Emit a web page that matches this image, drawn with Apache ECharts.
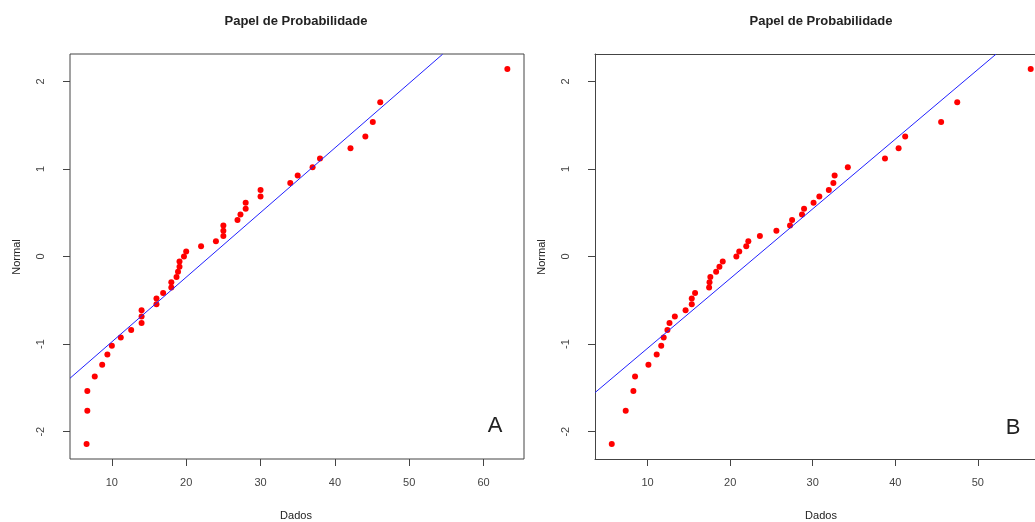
<!DOCTYPE html>
<html>
<head>
<meta charset="utf-8">
<script src="https://cdn.jsdelivr.net/npm/echarts@6/dist/echarts.min.js"></script>
<style>
  html, body { margin: 0; background: #fff; }
  #main { width: 1035px; height: 522px; }
</style>
</head>
<body>
<div id="main"></div>
<script>
// Papel de probabilidade: dados ordenados contra os quantis da normal
var dadosA = [6.6, 6.7, 6.7, 7.7, 8.7, 9.4, 10.0, 11.2, 12.6, 14.0, 14.0, 14.0, 16.0, 16.0, 16.9,
  18.0, 18.0, 18.7, 18.9, 19.1, 19.1, 19.7, 20.0, 22.0, 24.0, 25.0, 25.0, 25.0, 26.9, 27.3,
  28.0, 28.0, 30.0, 30.0, 34.0, 35.0, 37.0, 38.0, 42.1, 44.1, 45.1, 46.1, 63.2];
var dadosB = [5.66, 7.35, 8.28, 8.48, 10.1, 11.1, 11.65, 11.95, 12.4, 12.65, 13.3, 14.6, 15.35, 15.35, 15.75,
  17.45, 17.5, 17.6, 18.3, 18.7, 19.1, 20.75, 21.1, 21.95, 22.2, 23.6, 25.6, 27.25, 27.5, 28.7,
  28.95, 30.1, 30.8, 31.95, 32.5, 32.65, 34.25, 38.75, 40.4, 41.2, 45.55, 47.5, 56.4];
var normal = [-2.141, -1.760, -1.537, -1.371, -1.235, -1.120, -1.018, -0.925, -0.840, -0.760, -0.685,
  -0.614, -0.546, -0.480, -0.416, -0.354, -0.293, -0.233, -0.174, -0.116, -0.058, 0, 0.058, 0.116,
  0.174, 0.233, 0.293, 0.354, 0.416, 0.480, 0.546, 0.614, 0.685, 0.760, 0.840, 0.925, 1.018,
  1.120, 1.235, 1.371, 1.537, 1.760, 2.141];
// reta de referencia (dois pontos de cada reta)
var retaA = [[4.37, -1.39], [54.5, 2.31]];
var retaB = [[3.63, -1.554], [52.2, 2.31]];
var ticksX = [10, 20, 30, 40, 50, 60];
var ticksY = [-2, -1, 0, 1, 2];
var rangeXA = [4.37, 65.44];
// o painel B sai da imagem pela direita: corta o eixo na borda
var rangeXB = [3.63, 56.92];
var rangeY = [-2.312, 2.312];

var FONT = 'Liberation Sans, Arial, sans-serif';
var COR_EIXO = '#444';
var myChart = echarts.init(document.getElementById('main'));

function pares(xs, ys) {
  return xs.map(function (x, i) { return [x, ys[i]]; });
}
function eixoX(idx, r, linha) {
  return {
    type: 'value', gridIndex: idx, min: r[0], max: r[1], position: 'bottom',
    splitLine: { show: false },
    axisLine: { show: linha, onZero: false, lineStyle: { color: COR_EIXO, width: 1 } },
    axisTick: { show: true, length: 7, customValues: ticksX, lineStyle: { color: COR_EIXO } },
    axisLabel: { customValues: ticksX, margin: 18, color: COR_EIXO, fontSize: 11, fontFamily: FONT }
  };
}
// so a linha de cima da moldura
function eixoTopo(idx, r) {
  return {
    type: 'value', gridIndex: idx, min: r[0], max: r[1], position: 'top',
    splitLine: { show: false },
    axisLine: { show: true, onZero: false, lineStyle: { color: COR_EIXO, width: 1 } },
    axisTick: { show: false }, axisLabel: { show: false }
  };
}
function eixoY(idx, linha) {
  return {
    type: 'value', gridIndex: idx, min: rangeY[0], max: rangeY[1], position: 'left',
    splitLine: { show: false },
    axisLine: { show: linha, onZero: false, lineStyle: { color: COR_EIXO, width: 1 } },
    axisTick: { show: true, length: 7, customValues: ticksY, lineStyle: { color: COR_EIXO } },
    axisLabel: { customValues: ticksY, rotate: 90, margin: 24, color: COR_EIXO, fontSize: 11, fontFamily: FONT }
  };
}
function texto(t, x, y, size, weight, rot) {
  return {
    type: 'text', x: x, y: y, rotation: rot || 0,
    style: { text: t, fontSize: size, fontWeight: weight, fontFamily: FONT, fill: '#222',
      align: 'center', verticalAlign: 'middle' }
  };
}

var option = {
  backgroundColor: '#fff',
  animation: false,
  grid: [
    { left: 70, top: 54, width: 454, height: 405, show: true, borderColor: COR_EIXO, borderWidth: 1, backgroundColor: 'transparent' },
    { left: 595, top: 54, width: 441, height: 405, show: false }
  ],
  xAxis: [eixoX(0, rangeXA, false), eixoX(1, rangeXB, true), eixoTopo(1, rangeXB)],
  yAxis: [eixoY(0, false), eixoY(1, true)],
  series: [
    { type: 'line', xAxisIndex: 0, yAxisIndex: 0, data: retaA, showSymbol: false, clip: true,
      lineStyle: { color: '#2020ff', width: 1 } },
    { type: 'scatter', xAxisIndex: 0, yAxisIndex: 0, data: pares(dadosA, normal),
      symbolSize: 6, itemStyle: { color: '#ff0000', opacity: 1 } },
    { type: 'line', xAxisIndex: 1, yAxisIndex: 1, data: retaB, showSymbol: false, clip: true,
      lineStyle: { color: '#2020ff', width: 1 } },
    { type: 'scatter', xAxisIndex: 1, yAxisIndex: 1, data: pares(dadosB, normal),
      symbolSize: 6, itemStyle: { color: '#ff0000', opacity: 1 } }
  ],
  graphic: [
    texto('Papel de Probabilidade', 296, 21, 13, 'bold'),
    texto('Papel de Probabilidade', 821, 21, 13, 'bold'),
    texto('Dados', 296, 516, 11, 'normal'),
    texto('Dados', 821, 516, 11, 'normal'),
    texto('Normal', 17, 257, 11, 'normal', Math.PI / 2),
    texto('Normal', 542, 257, 11, 'normal', Math.PI / 2),
    texto('A', 495, 426, 22, 'normal'),
    texto('B', 1013, 428, 22, 'normal')
  ]
};
myChart.setOption(option);
</script>
</body>
</html>
